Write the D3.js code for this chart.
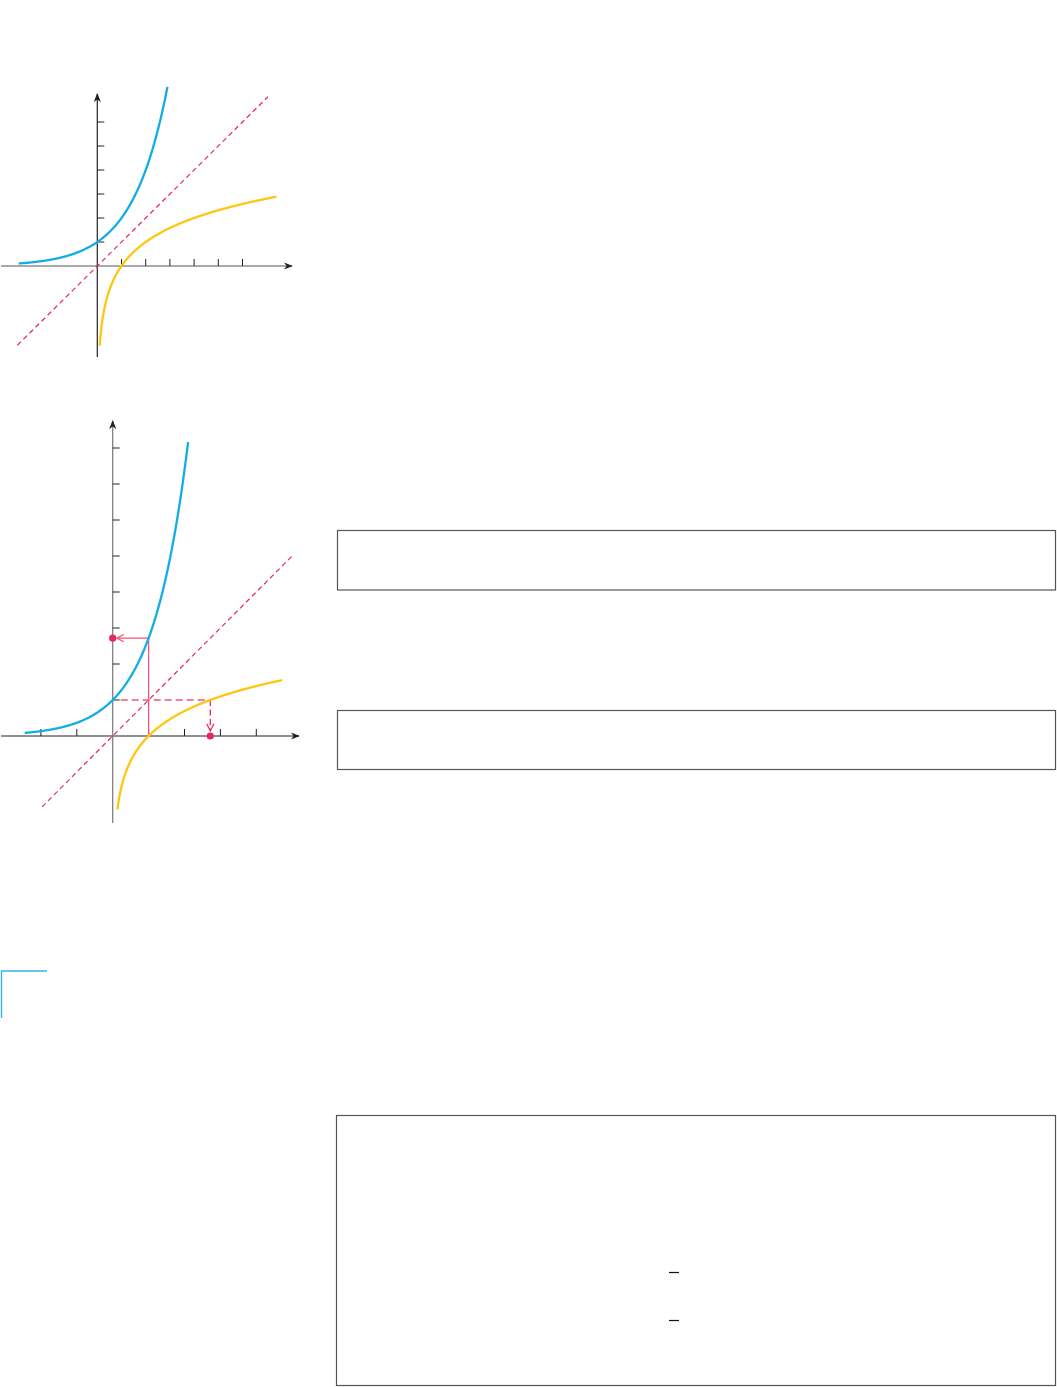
<!DOCTYPE html>
<html>
<head>
<meta charset="utf-8">
<script src="https://cdn.jsdelivr.net/npm/d3@7"></script>
<style>
html,body{margin:0;padding:0;background:#fff;}
svg{display:block;}
</style>
</head>
<body>
<svg id="page" width="1057" height="1387"></svg>
<script>
// ---- data ----
// Graph 1: y = 2^x, y = log2 x, y = x
const g1XTicks = [1, 2, 3, 4, 5, 6];
const g1YTicks = [1, 2, 3, 4, 5, 6];
const g1ExpDomain = [-3.25, 2.9];
const g1LogDomain = [0.1, 7.4];
const g1LineDomain = [-3.3, 7.05];
// Graph 2: y = e^x, y = ln x, y = x
const g2XTicks = [-2, -1, 1, 2, 3, 4];
const g2YTicks = [1, 2, 3, 4, 5, 6, 7, 8];
const g2ExpDomain = [-2.45, 2.1];
const g2LogDomain = [0.13, 4.72];
const g2LineDomain = [-1.97, 5.03];
const g2Point = Math.E; // highlighted value e

const BLUE = "#12aee3", YELLOW = "#fdc70f", RED = "#e3295e", PINK = "#f0557a", AXIS = "#333";

const svg = d3.select("#page");
const defs = svg.append("defs");
function marker(id, color, size) {
  defs.append("marker").attr("id", id).attr("viewBox", "0 0 10 10")
    .attr("refX", 9).attr("refY", 5).attr("markerWidth", size).attr("markerHeight", size)
    .attr("orient", "auto").attr("markerUnits", "userSpaceOnUse")
    .append("path").attr("d", "M0,1 L10,5 L0,9 L3,5 Z").attr("fill", color);
}
marker("ax", "#222", 9);
function openArrow(id, color) {
  defs.append("marker").attr("id", id).attr("viewBox", "0 0 10 10")
    .attr("refX", 9).attr("refY", 5).attr("markerWidth", 9).attr("markerHeight", 9)
    .attr("orient", "auto").attr("markerUnits", "userSpaceOnUse")
    .append("path").attr("d", "M1,1 L9,5 L1,9").attr("fill", "none").attr("stroke", color).attr("stroke-width", 1.3);
}
openArrow("pinkArrow", PINK);
openArrow("redArrow", RED);

function sample(dom, f, n) {
  return d3.range(n + 1).map(i => { const x = dom[0] + (dom[1] - dom[0]) * i / n; return [x, f(x)]; });
}

function drawGraph(cfg) {
  const g = svg.append("g");
  const x = cfg.x, y = cfg.y;
  const line = d3.line().x(d => x(d[0])).y(d => y(d[1])).curve(d3.curveLinear);
  // axes
  g.append("line").attr("x1", cfg.xAxisStart).attr("x2", cfg.xAxisEnd).attr("y1", y(0)).attr("y2", y(0))
    .attr("stroke", cfg.xAxisColor).attr("stroke-width", 1.2).attr("marker-end", "url(#ax)");
  g.append("line").attr("x1", x(0)).attr("x2", x(0)).attr("y1", cfg.yAxisBottom).attr("y2", cfg.yAxisTop)
    .attr("stroke", cfg.yAxisColor).attr("stroke-width", 1.2).attr("marker-end", "url(#ax)");
  // ticks
  g.selectAll(null).data(cfg.xTicks).join("line")
    .attr("x1", d => x(d)).attr("x2", d => x(d)).attr("y1", y(0)).attr("y2", y(0) - 7)
    .attr("stroke", "#222").attr("stroke-width", 1);
  g.selectAll(null).data(cfg.yTicks).join("line")
    .attr("x1", x(0)).attr("x2", x(0) + 7).attr("y1", d => y(d)).attr("y2", d => y(d))
    .attr("stroke", "#222").attr("stroke-width", 1);
  // dashed y=x
  g.append("path").attr("d", line(sample(cfg.lineDomain, t => t, 2)))
    .attr("fill", "none").attr("stroke", RED).attr("stroke-width", 1.2).attr("stroke-dasharray", "5,3.5");
  if (cfg.extra) cfg.extra(g, x, y);
  // curves
  g.append("path").attr("d", line(sample(cfg.expDomain, cfg.exp, 300)))
    .attr("fill", "none").attr("stroke", BLUE).attr("stroke-width", 2.3);
  g.append("path").attr("d", line(sample(cfg.logDomain, cfg.log, 400)))
    .attr("fill", "none").attr("stroke", YELLOW).attr("stroke-width", 2.3);
  if (cfg.dots) cfg.dots(g, x, y);
}

// Graph 1
drawGraph({
  x: d3.scaleLinear().domain([0, 1]).range([97.3, 121.5]),
  y: d3.scaleLinear().domain([0, 1]).range([266, 242]),
  xAxisStart: 1, xAxisEnd: 292, yAxisTop: 94, yAxisBottom: 357,
  xAxisColor: "#555", yAxisColor: "#222",
  xTicks: g1XTicks, yTicks: g1YTicks,
  lineDomain: g1LineDomain, expDomain: g1ExpDomain, logDomain: g1LogDomain,
  exp: t => Math.pow(2, t), log: t => Math.log2(t)
});

// Graph 2
drawGraph({
  x: d3.scaleLinear().domain([0, 1]).range([112.7, 148.6]),
  y: d3.scaleLinear().domain([0, 1]).range([736, 700]),
  xAxisStart: 1, xAxisEnd: 299, yAxisTop: 421, yAxisBottom: 823,
  xAxisColor: "#222", yAxisColor: "#777",
  xTicks: g2XTicks, yTicks: g2YTicks,
  lineDomain: g2LineDomain, expDomain: g2ExpDomain, logDomain: g2LogDomain,
  exp: t => Math.exp(t), log: t => Math.log(t),
  extra: (g, x, y) => {
    // solid: (1,0) -> (1,e) -> y axis
    g.append("line").attr("x1", x(1)).attr("x2", x(1)).attr("y1", y(0)).attr("y2", y(g2Point))
      .attr("stroke", PINK).attr("stroke-width", 1.3);
    g.append("line").attr("x1", x(1)).attr("x2", x(0) + 4).attr("y1", y(g2Point)).attr("y2", y(g2Point))
      .attr("stroke", PINK).attr("stroke-width", 1.3).attr("marker-end", "url(#pinkArrow)");
    // dashed: (0,1) -> (e,1) -> (e,0)
    g.append("line").attr("x1", x(0) + 8).attr("x2", x(g2Point)).attr("y1", y(1)).attr("y2", y(1))
      .attr("stroke", PINK).attr("stroke-width", 1.3).attr("stroke-dasharray", "7,4");
    g.append("line").attr("x1", x(g2Point)).attr("x2", x(g2Point)).attr("y1", y(1)).attr("y2", y(0) - 5)
      .attr("stroke", RED).attr("stroke-width", 1.3).attr("stroke-dasharray", "6,3.5")
      .attr("marker-end", "url(#redArrow)");
  },
  dots: (g, x, y) => {
    g.selectAll(null).data([[0, g2Point], [g2Point, 0]]).join("circle")
      .attr("cx", d => x(d[0])).attr("cy", d => y(d[1])).attr("r", 3.6).attr("fill", RED);
  }
});

// boxes
const boxes = [[337.5, 530.5, 1055.5, 590], [337.5, 710.5, 1055.5, 769.5], [336.5, 1115.5, 1055.5, 1385.5]];
svg.selectAll(null).data(boxes).join("rect")
  .attr("x", d => d[0]).attr("y", d => d[1]).attr("width", d => d[2] - d[0]).attr("height", d => d[3] - d[1])
  .attr("fill", "none").attr("stroke", "#555").attr("stroke-width", 1.2);

// cyan corner bracket
svg.append("path").attr("d", "M1.5,1018 L1.5,971 L47,971").attr("fill", "none")
  .attr("stroke", "#35b5e5").attr("stroke-width", 1.4);

// fraction bars
svg.selectAll(null).data([1272.5, 1320.5]).join("line")
  .attr("x1", 669).attr("x2", 679).attr("y1", d => d).attr("y2", d => d)
  .attr("stroke", "#111").attr("stroke-width", 1.2);
</script>
</body>
</html>
